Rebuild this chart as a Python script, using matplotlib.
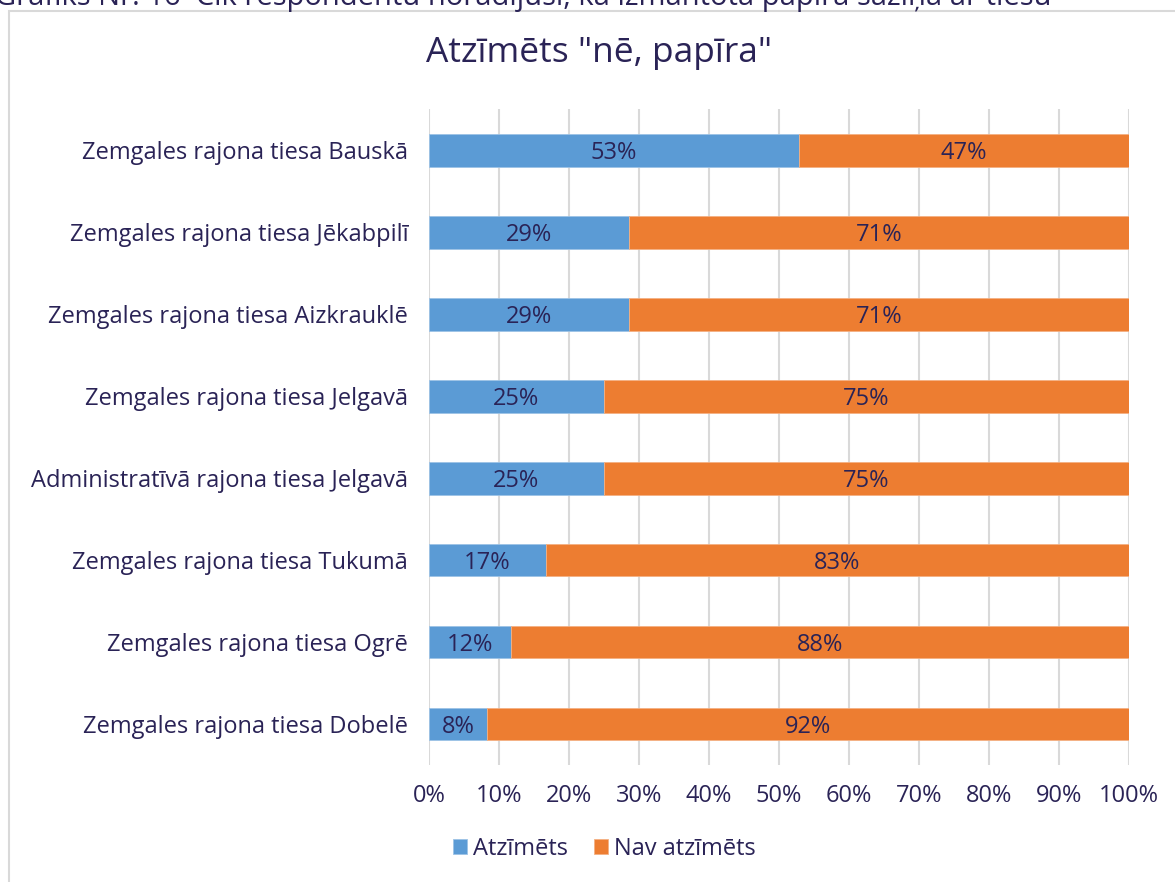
import matplotlib.pyplot as plt
from matplotlib.patches import Rectangle

plt.rcParams['font.family'] = ['Open Sans', 'DejaVu Sans']

# Courts, top to bottom as in the chart
courts = [
    'Zemgales rajona tiesa Bauskā',
    'Zemgales rajona tiesa Jēkabpilī',
    'Zemgales rajona tiesa Aizkrauklē',
    'Zemgales rajona tiesa Jelgavā',
    'Administratīvā rajona tiesa Jelgavā',
    'Zemgales rajona tiesa Tukumā',
    'Zemgales rajona tiesa Ogrē',
    'Zemgales rajona tiesa Dobelē',
]
# Share (%) that marked paper communication
marked = [52.9, 28.6, 28.6, 25.0, 25.0, 16.7, 11.8, 8.3]
not_marked = [47.1, 71.4, 71.4, 75.0, 75.0, 83.3, 88.2, 91.7]

series_names = ['Atzīmēts', 'Nav atzīmēts']
colors = ['#5B9BD5', '#ED7D31']
text_color = '#2A2356'

fig = plt.figure(figsize=(11.75, 8.82), dpi=100)
ax = fig.add_axes([0.365, 0.1327, 0.5957, 0.7433])

# outer chart frame (runs off the right/bottom edge)
fig.patches.append(Rectangle((9 / 1175, -0.05), 1.2, 1 - 11 / 882 + 0.05,
                             transform=fig.transFigure, fill=False,
                             edgecolor='#D9D9D9', linewidth=1.5))

# caption cut off at top of the image
fig.text(-0.004, 1 - 5 / 882,
         'Grafiks Nr. 16  Cik respondentu norādījuši, ka izmantota papīra saziņa ar tiesu',
         fontsize=21, color=text_color, va='baseline', ha='left')

y = list(range(len(courts)))[::-1]
b1 = ax.barh(y, marked, height=0.4, color=colors[0], edgecolor='#9DC3E6',
             linewidth=0.6, label=series_names[0], zorder=3)
b2 = ax.barh(y, not_marked, left=marked, height=0.4, color=colors[1],
             edgecolor='#F4B183', linewidth=0.6, label=series_names[1], zorder=3)

for bars, vals, lefts in [(b1, marked, [0] * len(marked)), (b2, not_marked, marked)]:
    for yy, v, l in zip(y, vals, lefts):
        ax.text(l + v / 2, yy, f'{round(v)}%', ha='center', va='center_baseline',
                fontsize=17, color=text_color, zorder=4)

ax.set_xlim(0, 100)
ax.set_ylim(-0.5, 7.5)
ax.set_xticks(range(0, 101, 10))
ax.set_xticklabels([f'{t}%' for t in range(0, 101, 10)])
ax.set_yticks(y)
ax.set_yticklabels(courts)
ax.tick_params(axis='both', length=0, labelsize=17, labelcolor=text_color)
ax.tick_params(axis='x', pad=14)
ax.tick_params(axis='y', pad=15)
ax.grid(axis='x', color='#D9D9D9', linewidth=1.5, zorder=0)
for s in ax.spines.values():
    s.set_visible(False)

fig.text(0.51, 1 - 53 / 882, 'Atzīmēts "nē, papīra"', ha='center', va='center',
         fontsize=25.5, color=text_color)

leg = fig.legend(handles=[b1, b2], labels=series_names, loc='center',
                 bbox_to_anchor=(0.514, 1 - 849 / 882), ncol=2, frameon=False,
                 fontsize=17, handlelength=0.6, handleheight=0.6,
                 handletextpad=0.25, columnspacing=1.1)
for t in leg.get_texts():
    t.set_color(text_color)

fig.savefig('out.png', dpi=100)
